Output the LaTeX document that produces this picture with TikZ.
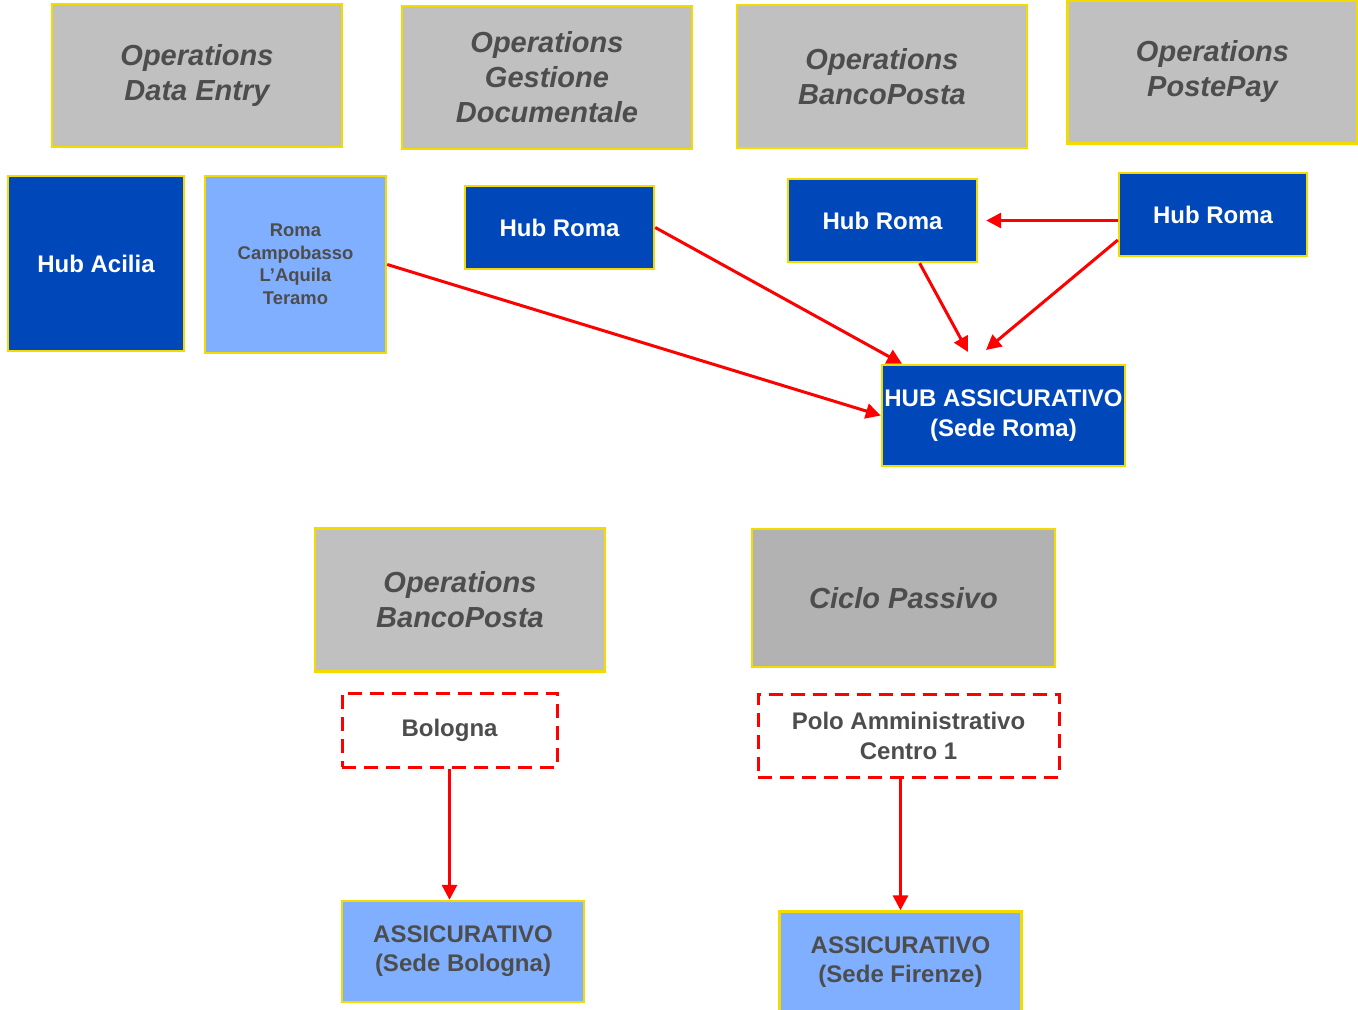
\documentclass[tikz,border=0pt]{standalone}
\usepackage{fontspec}
\setmainfont{Liberation Sans}
\usetikzlibrary{arrows.meta}
\definecolor{opgray}{HTML}{C0C0C0}
\definecolor{ciclogray}{HTML}{B2B2B2}
\definecolor{hubblue}{HTML}{0047BA}
\definecolor{sedeblue}{HTML}{80AFFF}
\definecolor{boxyellow}{HTML}{F2DC00}
\definecolor{textgray}{HTML}{4D4D4D}
\begin{document}
\begin{tikzpicture}[x=0.5pt, y=-0.5pt,
      every node/.style = {shape=rectangle, draw=boxyellow, line width=1.2pt,
        align=center, inner sep=0pt, font=\bfseries},
      opbox/.style = {fill=opgray, text=textgray, minimum width=145pt, minimum height=71.5pt,
        font=\bfseries\itshape\fontsize{14.5}{17.5}\selectfont},
      hubbox/.style = {fill=hubblue, text=white, font=\bfseries\fontsize{12}{15}\selectfont},
      sedebox/.style = {fill=sedeblue, text=textgray, minimum width=121pt, minimum height=50.5pt,
        font=\bfseries\fontsize{12}{14.5}\selectfont},
      polobox/.style = {draw=red, dash pattern=on 7pt off 4pt, line width=1.5pt, fill=white,
        text=textgray, font=\bfseries\fontsize{12}{15}\selectfont},
      link/.style = {draw=red, line width=1.5pt, -{Triangle[length=7.5pt,width=7.5pt]}}]
    \useasboundingbox (0,0) rectangle (1358,1010);
    % top row
    \node[opbox] (opdata) at (197,75.5) {Operations\\Data Entry};
    \node[opbox] (opdoc) at (547,77.5) {Operations\\Gestione\\Documentale};
    \node[opbox] (opbanco) at (882,76.5) {Operations\\BancoPosta};
    \node[opbox] (oppay) at (1212.5,72) {Operations\\PostePay};
    % hubs
    \node[hubbox, minimum width=88pt, minimum height=87.5pt] (acilia) at (96,263.5) {Hub Acilia};
    \node[fill=sedeblue, text=textgray, minimum width=90.5pt, minimum height=88.5pt,
      font=\bfseries\fontsize{9.2}{11.25}\selectfont] (cities) at (295.5,264.5)
      {Roma\\Campobasso\\L’Aquila\\Teramo};
    \node[hubbox, minimum width=94.5pt, minimum height=41.5pt] (romadoc) at (559.5,227.5) {Hub Roma};
    \node[hubbox, minimum width=94.5pt, minimum height=41.5pt] (romabanco) at (882.5,220.5) {Hub Roma};
    \node[hubbox, minimum width=94pt, minimum height=41.5pt] (romapay) at (1213,214.5) {Hub Roma};
    \node[hubbox, minimum width=121.5pt, minimum height=50.5pt] (hubass) at (1003.5,415.5)
      {HUB ASSICURATIVO\\(Sede Roma)};
    \coordinate (tipbanco) at (968,352);
    \coordinate (tippay) at (986,350);
    % bottom part
    \node[opbox] (opbanco2) at (460,600) {Operations\\BancoPosta};
    \node[opbox, fill=ciclogray, minimum width=151.5pt, minimum height=69pt] (ciclo) at (903.5,598) {Ciclo Passivo};
    \node[polobox, minimum width=107.5pt, minimum height=37pt] (bologna) at (449.5,730) {Bologna};
    \node[polobox, minimum width=150.5pt, minimum height=41.5pt] (polo) at (908.5,735.5)
      {Polo Amministrativo\\Centro 1};
    \node[sedebox] (assbo) at (463,951.5) {ASSICURATIVO\\(Sede Bologna)};
    \node[sedebox] (assfi) at (900.5,962) {ASSICURATIVO\\(Sede Firenze)};
    % arrows
    \draw[link] (cities.east) -- (hubass.west);
    \draw[link] (romadoc.east) -- (hubass.153);
    \draw[link] (romabanco.-49.5) -- (tipbanco);
    \draw[link] (romapay.195) -- (tippay);
    \draw[link, shorten >=4pt] (romapay.west |- romabanco.east) -- (romabanco.east);
    \draw[link] (bologna.south) -- (bologna.south |- assbo.north);
    \draw[link] (assfi.north |- polo.south) -- (assfi.north);
\end{tikzpicture}
\end{document}
